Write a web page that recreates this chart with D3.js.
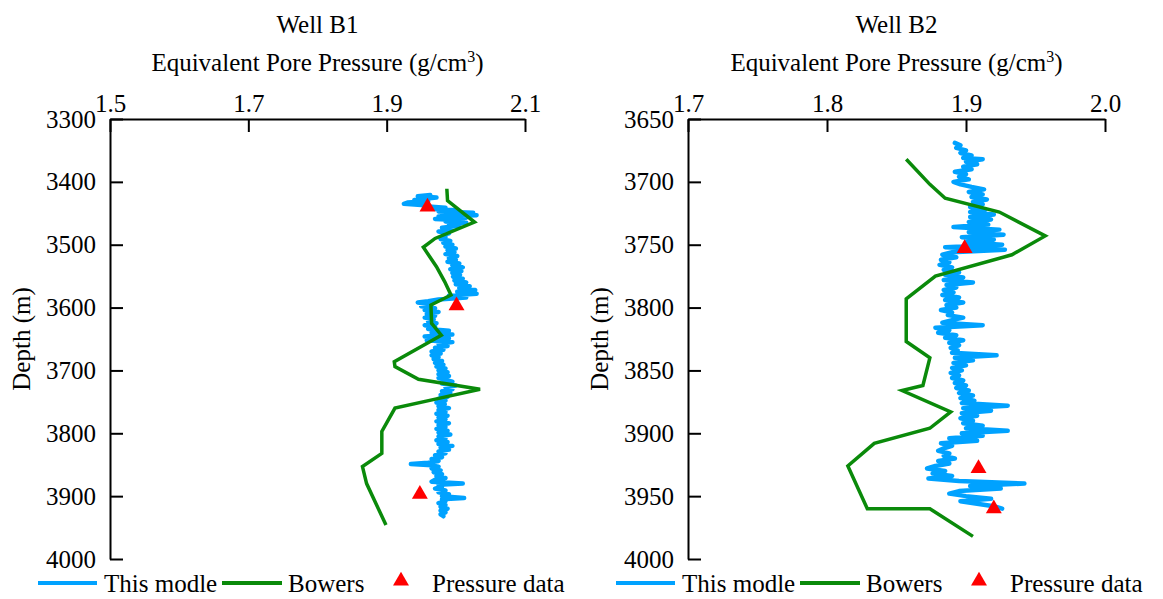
<!DOCTYPE html>
<html>
<head>
<meta charset="utf-8">
<script src="https://cdn.jsdelivr.net/npm/d3@7"></script>
<style>
  body { margin: 0; background: #fff; }
  svg text { font-family: "Liberation Serif", "Times New Roman", Times, serif !important; fill: #000; }
</style>
</head>
<body>
<script>
// Well B1 : [depth (m), equivalent pore pressure (g/cm3)]
var b1Model = [
  [3421,1.963],[3423,1.945],[3425,1.972],[3427,1.955],[3429,1.940],[3431,1.960],[3433,1.930],
  [3435,1.925],[3437,1.950],[3439,1.960],[3441,1.985],[3443,1.970],[3445,2.000],[3447,1.975],
  [3449,2.025],[3451,1.980],[3453,2.030],[3455,1.975],[3457,2.015],[3459,1.970],[3461,2.010],
  [3463,1.985],[3465,2.015],[3467,1.990],[3470,2.005],[3473,1.980],[3476,1.995],[3479,1.975],
  [3482,1.990],[3485,1.980],[3488,1.985],[3491,1.978],[3494,1.992],[3497,1.982],[3500,1.995],
  [3503,1.985],[3506,2.000],[3509,1.988],[3512,1.998],[3515,1.985],[3518,2.002],[3521,1.990],
  [3524,2.000],[3527,1.988],[3530,2.005],[3533,1.995],[3536,2.010],[3539,1.992],[3542,2.008],
  [3545,1.995],[3548,2.006],[3551,1.996],[3554,2.010],[3557,1.998],[3560,2.015],[3563,2.000],
  [3566,2.020],[3569,2.005],[3572,2.028],[3575,2.002],[3578,2.030],[3581,1.990],[3584,2.015],
  [3587,1.975],[3590,1.960],[3592,1.945],[3595,1.965],[3598,1.950],[3601,1.970],[3604,1.955],
  [3607,1.975],[3610,1.958],[3613,1.970],[3616,1.955],[3619,1.968],[3622,1.960],[3625,1.972],
  [3628,1.955],[3631,1.970],[3634,1.960],[3637,1.990],[3640,1.965],[3643,1.995],[3646,1.955],
  [3649,1.990],[3652,1.958],[3655,1.995],[3658,1.975],[3661,1.988],[3664,1.970],[3667,1.982],
  [3670,1.965],[3673,1.978],[3676,1.965],[3679,1.975],[3682,1.968],[3685,1.980],[3688,1.970],
  [3691,1.982],[3694,1.972],[3697,1.985],[3700,1.975],[3703,1.988],[3706,1.975],[3709,1.990],
  [3712,1.975],[3715,1.985],[3718,1.995],[3721,1.980],[3724,2.000],[3727,1.985],[3730,1.995],
  [3733,1.980],[3736,1.992],[3739,1.978],[3742,1.988],[3745,1.975],[3748,1.985],[3751,1.972],
  [3754,1.984],[3757,1.975],[3760,1.990],[3763,1.975],[3766,1.985],[3769,1.972],[3772,1.988],
  [3775,1.975],[3778,1.985],[3781,1.972],[3784,1.990],[3787,1.975],[3790,1.985],[3793,1.972],
  [3796,1.988],[3799,1.975],[3802,1.992],[3805,1.975],[3808,1.985],[3811,1.972],[3814,1.988],
  [3817,1.975],[3820,1.995],[3823,1.978],[3826,1.990],[3829,1.975],[3832,1.985],[3835,1.970],
  [3838,1.980],[3841,1.965],[3844,1.975],[3847,1.960],[3849,1.935],[3851,1.965],[3853,1.975],
  [3856,1.965],[3859,1.978],[3862,1.968],[3865,1.980],[3868,1.972],[3871,1.985],[3874,1.970],
  [3877,1.965],[3880,2.010],[3882,1.975],[3885,1.980],[3888,1.970],[3891,1.985],[3894,1.975],
  [3897,1.990],[3900,1.980],[3903,2.012],[3905,1.980],[3908,1.985],[3911,1.975],[3914,1.985],
  [3917,1.978],[3920,1.988],[3923,1.978],[3926,1.985],[3929,1.978],[3932,1.982]
];
var b1Bowers = [
  [3411,1.987],[3430,1.988],[3464,2.027],[3490,1.970],[3504,1.953],[3535,1.972],[3559,1.984],
  [3580,1.993],[3596,1.964],[3625,1.965],[3644,1.979],[3686,1.911],[3694,1.912],[3714,1.946],
  [3730,2.035],[3744,1.977],[3760,1.912],[3797,1.893],[3832,1.893],[3853,1.865],[3880,1.871],
  [3946,1.899]
];
var b1Measured = [[3440,1.959],[3597,2.001],[3897,1.948]];

// Well B2
var b2Model = [
  [3669,1.892],[3671,1.896],[3673,1.893],[3675,1.900],[3677,1.896],[3679,1.904],[3681,1.898],
  [3682,1.912],[3684,1.900],[3686,1.908],[3688,1.898],[3690,1.904],[3692,1.892],[3694,1.900],
  [3696,1.895],[3698,1.902],[3700,1.891],[3702,1.896],[3704,1.904],[3706,1.913],[3708,1.902],
  [3710,1.912],[3712,1.904],[3714,1.915],[3716,1.905],[3718,1.912],[3720,1.903],[3722,1.914],
  [3724,1.903],[3726,1.920],[3728,1.903],[3730,1.918],[3732,1.902],[3734,1.916],[3736,1.891],
  [3738,1.924],[3740,1.902],[3742,1.927],[3744,1.897],[3746,1.920],[3748,1.900],[3750,1.926],
  [3752,1.885],[3754,1.928],[3756,1.890],[3758,1.883],[3760,1.893],[3762,1.882],[3764,1.888],
  [3766,1.881],[3768,1.890],[3770,1.884],[3772,1.895],[3774,1.885],[3776,1.898],[3778,1.884],
  [3780,1.905],[3782,1.886],[3784,1.893],[3786,1.884],[3788,1.891],[3790,1.883],[3792,1.895],
  [3794,1.885],[3796,1.898],[3798,1.886],[3800,1.893],[3802,1.882],[3804,1.890],[3806,1.887],
  [3808,1.898],[3810,1.890],[3812,1.883],[3814,1.912],[3816,1.878],[3818,1.888],[3820,1.880],
  [3822,1.893],[3824,1.885],[3826,1.898],[3828,1.888],[3830,1.895],[3832,1.889],[3834,1.894],
  [3836,1.890],[3838,1.922],[3840,1.892],[3842,1.905],[3844,1.891],[3846,1.900],[3848,1.890],
  [3850,1.897],[3852,1.889],[3854,1.895],[3856,1.890],[3858,1.898],[3860,1.892],[3862,1.900],
  [3864,1.893],[3866,1.902],[3868,1.895],[3870,1.905],[3872,1.896],[3874,1.906],[3876,1.897],
  [3878,1.930],[3880,1.898],[3882,1.918],[3884,1.897],[3886,1.908],[3888,1.896],[3890,1.905],
  [3892,1.898],[3894,1.912],[3896,1.900],[3898,1.930],[3900,1.897],[3902,1.912],[3904,1.888],
  [3906,1.908],[3908,1.882],[3910,1.890],[3912,1.884],[3914,1.880],[3916,1.888],[3918,1.884],
  [3920,1.892],[3922,1.880],[3924,1.888],[3926,1.878],[3928,1.872],[3930,1.885],[3932,1.876],
  [3934,1.890],[3936,1.873],[3938,1.895],[3940,1.942],[3942,1.903],[3944,1.925],[3946,1.895],
  [3948,1.888],[3950,1.900],[3952,1.918],[3954,1.896],[3956,1.908],[3958,1.920],[3960,1.926]
];
var b2Bowers = [
  [3682,1.857],[3702,1.874],[3713,1.885],[3724,1.924],[3743,1.957],[3758,1.933],[3775,1.878],
  [3793,1.857],[3827,1.857],[3840,1.874],[3862,1.869],[3866,1.854],[3883,1.889],[3896,1.874],
  [3908,1.834],[3926,1.815],[3960,1.829],[3960,1.874],[3982,1.905]
];
var b2Measured = [[3753,1.899],[3928,1.909],[3960,1.920]];

var b1Ticks = [1.5, 1.7, 1.9, 2.1];
var b1DepthTicks = [3300, 3400, 3500, 3600, 3700, 3800, 3900, 4000];
var b2Ticks = [1.7, 1.8, 1.9, 2.0];
var b2DepthTicks = [3650, 3700, 3750, 3800, 3850, 3900, 3950, 4000];

var blue = "#00a2ff";
var green = "#0a8a0a";
var red = "#ff0000";
var serif = "'Liberation Serif', 'Times New Roman', Times, serif";

var svg = d3.select("body").append("svg")
  .attr("width", 1163)
  .attr("height", 599)
  .attr("font-family", serif);

var plotTop = 119, plotBottom = 559;

function drawWell(opts) {
  var g = svg.append("g");
  var x = d3.scaleLinear().domain(opts.xDomain).range([opts.left, opts.right]);
  var y = d3.scaleLinear().domain(opts.yDomain).range([plotTop, plotBottom]);
  var mid = (opts.left + opts.right) / 2;

  var line = d3.line()
    .x(function(d) { return x(d[1]); })
    .y(function(d) { return y(d[0]); });

  g.append("path")
    .datum(opts.model)
    .attr("d", line)
    .attr("fill", "none")
    .attr("stroke", blue)
    .attr("stroke-width", 4.5)
    .attr("stroke-linejoin", "round")
    .attr("stroke-linecap", "round");

  g.append("path")
    .datum(opts.bowers)
    .attr("d", line)
    .attr("fill", "none")
    .attr("stroke", green)
    .attr("stroke-width", 3.5);

  g.selectAll(".tri")
    .data(opts.measured)
    .enter()
    .append("path")
    .attr("d", d3.symbol(d3.symbolTriangle, 110))
    .attr("transform", function(d) { return "translate(" + x(d[1]) + "," + y(d[0]) + ")"; })
    .attr("fill", red);

  // top axis, ticks pointing inward
  g.append("g")
    .attr("transform", "translate(0," + plotTop + ")")
    .call(d3.axisTop(x).tickValues(opts.xTicks).tickFormat(d3.format(".1f"))
      .tickSizeInner(-13).tickSizeOuter(0).tickPadding(7))
    .attr("font-family", serif);

  g.append("g")
    .attr("transform", "translate(" + opts.left + ",0)")
    .call(d3.axisLeft(y).tickValues(opts.yTicks).tickFormat(d3.format("d"))
      .tickSizeInner(-13).tickSizeOuter(0).tickPadding(14))
    .attr("font-family", serif);

  g.selectAll(".domain, .tick line").attr("stroke", "#000").attr("stroke-width", 2);
  g.selectAll(".tick text").attr("font-size", 25).attr("fill", "#000");

  // titles
  g.append("text")
    .attr("x", mid).attr("y", 33)
    .attr("text-anchor", "middle")
    .attr("font-size", 25)
    .text(opts.title);

  var t = g.append("text")
    .attr("x", mid).attr("y", 71)
    .attr("text-anchor", "middle")
    .attr("font-size", 25);
  t.append("tspan").text("Equivalent Pore Pressure (g/cm");
  t.append("tspan").attr("dy", -9).attr("font-size", 16).text("3");
  t.append("tspan").attr("dy", 9).text(")");

  g.append("text")
    .attr("transform", "translate(" + (opts.left - 80) + "," + ((plotTop + plotBottom) / 2) + ") rotate(-90)")
    .attr("text-anchor", "middle")
    .attr("font-size", 25)
    .text("Depth (m)");

  // legend
  var ly = 583;
  var lx = opts.left;
  g.append("line").attr("x1", lx - 72).attr("x2", lx - 13).attr("y1", ly).attr("y2", ly)
    .attr("stroke", blue).attr("stroke-width", 4);
  g.append("text").attr("x", lx - 6).attr("y", ly + 9).attr("font-size", 25).text("This modle");
  g.append("line").attr("x1", lx + 112).attr("x2", lx + 172).attr("y1", ly).attr("y2", ly)
    .attr("stroke", green).attr("stroke-width", 4);
  g.append("text").attr("x", lx + 178).attr("y", ly + 9).attr("font-size", 25).text("Bowers");
  g.append("path")
    .attr("d", d3.symbol(d3.symbolTriangle, 110))
    .attr("transform", "translate(" + (lx + 291) + "," + (ly - 2) + ")")
    .attr("fill", red);
  g.append("text").attr("x", lx + 322).attr("y", ly + 9).attr("font-size", 25).text("Pressure data");
}

drawWell({
  title: "Well B1", left: 110, right: 525,
  xDomain: [1.5, 2.1], yDomain: [3300, 4000],
  xTicks: b1Ticks, yTicks: b1DepthTicks,
  model: b1Model, bowers: b1Bowers, measured: b1Measured
});

drawWell({
  title: "Well B2", left: 688, right: 1105,
  xDomain: [1.7, 2.0], yDomain: [3650, 4000],
  xTicks: b2Ticks, yTicks: b2DepthTicks,
  model: b2Model, bowers: b2Bowers, measured: b2Measured
});
</script>
</body>
</html>
